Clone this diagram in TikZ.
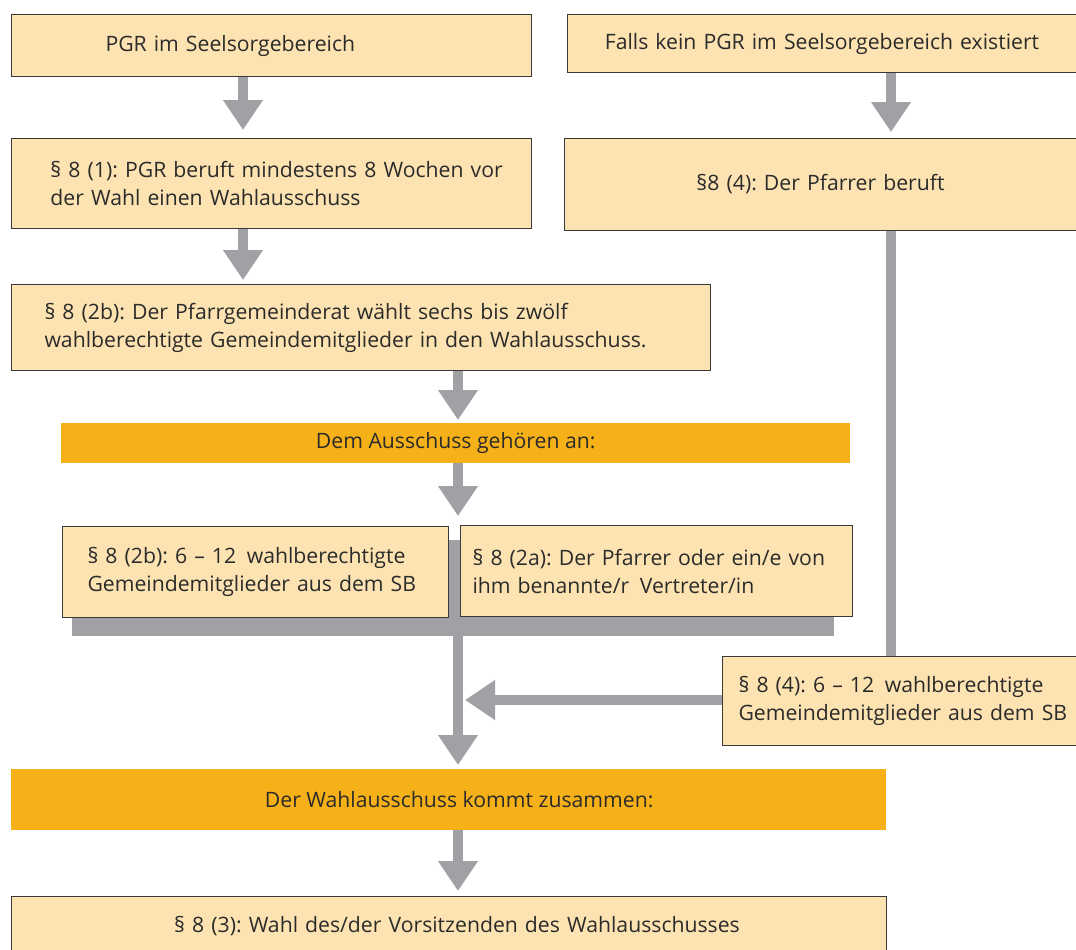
\documentclass[tikz,border=0pt]{standalone}
\usepackage{fontspec}
\setmainfont{Open Sans}
\frenchspacing
\usepackage{tikz}
\usetikzlibrary{arrows.meta}
\definecolor{kastenfarbe}{HTML}{FDE3B1}
\definecolor{balkenfarbe}{HTML}{F5B117}
\definecolor{pfeilgrau}{HTML}{A0A1A5}
\definecolor{rahmen}{HTML}{3A3A3A}
\definecolor{schrift}{HTML}{2B2B2B}

\begin{document}
\begin{tikzpicture}[x=1pt, y=-1pt,
    every node/.style={font=\fontsize{21.2}{28}\selectfont, text=schrift},
    kasten/.style={rectangle, fill=kastenfarbe, draw=rahmen, line width=1pt, anchor=north west, inner sep=0pt, align=left},
    einzug/.style={execute at begin node={\leftskip=#1\relax}},
    balken/.style={rectangle, fill=balkenfarbe, anchor=north west, inner sep=0pt, align=center},
    pfeil/.style={draw=pfeilgrau, line width=10pt, -{Triangle[width=38pt, length=30pt]}},
    linie/.style={draw=pfeilgrau, line width=10pt}]
        \useasboundingbox (0,0) rectangle (1076,950);
        \coordinate (links) at (243,0);
        \coordinate (mitte) at (458,0);
        \coordinate (rechts) at (891,0);
        \node[kasten, text width=520pt, minimum height=62pt, einzug=94pt] (pgr) at (11,14) {PGR im Seelsorgebereich};
        \node[kasten, text width=509pt, minimum height=58pt, align=center] (falls) at (567,14) {Falls kein PGR im Seelsorgebereich existiert};
        \node[kasten, text width=520pt, minimum height=90pt, einzug=39pt] (wochen) at (11,138) {§ 8 (1): PGR beruft mindestens 8 Wochen vor\\der Wahl einen Wahlausschuss};
        \node[kasten, text width=512pt, minimum height=92pt, align=center] (pfarrer) at (564,138) {§8 (4): Der Pfarrer beruft};
        \node[kasten, text width=699pt, minimum height=86pt, einzug=33pt] (pgrwahl) at (11,284) {§ 8 (2b): Der Pfarrgemeinderat wählt sechs bis zwölf\\wahlberechtigte Gemeindemitglieder in den Wahlausschuss.};
        \node[balken, minimum width=789pt, minimum height=40pt] (angehoeren) at (61,423) {Dem Ausschuss gehören an:};
        \node[rectangle, fill=pfeilgrau, anchor=north west, minimum width=762pt, minimum height=96pt, inner sep=0pt] (grau) at (72,540) {};
        \node[kasten, text width=386pt, minimum height=91pt, einzug=25pt] (mitglieder) at (62,526) {§ 8 (2b): 6 -- 12\, wahlberechtigte\\Gemeindemitglieder aus dem SB};
        \node[kasten, text width=392pt, minimum height=91pt, einzug=12pt] (vertreter) at (460,525) {§ 8 (2a): Der Pfarrer oder ein/e von\\ihm benannte/r\, Vertreter/in};
        \node[kasten, text width=360pt, minimum height=89pt, einzug=16pt] (berufene) at (722,656) {§ 8 (4): 6 -- 12\, wahlberechtigte\\Gemeindemitglieder aus dem SB};
        \node[balken, minimum width=875pt, minimum height=61pt] (zusammen) at (11,769) {\hspace*{21pt}Der Wahlausschuss kommt zusammen:};
        \node[kasten, text width=875pt, minimum height=60pt, align=center] (vorsitz) at (11,896) {\hspace*{16pt}§ 8 (3): Wahl des/der Vorsitzenden des Wahlausschusses};
        \draw[pfeil, shorten >=8pt] (pgr.south -| links) -- (wochen.north -| links);
        \draw[pfeil, shorten >=6pt] (falls.south -| rechts) -- (pfarrer.north -| rechts);
        \draw[pfeil, shorten >=4pt] (wochen.south -| links) -- (pgrwahl.north -| links);
        \draw[pfeil, shorten >=3pt] (pgrwahl.south -| mitte) -- (angehoeren.north -| mitte);
        \draw[pfeil, shorten >=10pt] (angehoeren.south -| mitte) -- (mitglieder.north -| mitte);
        \draw[linie] (pfarrer.south -| rechts) -- (berufene.north -| rechts);
        \draw[pfeil, shorten >=4pt] (grau.south -| mitte) -- (zusammen.north -| mitte);
        \draw[pfeil, shorten >=5pt] (zusammen.south -| mitte) -- (vorsitz.north -| mitte);
        \draw[pfeil, shorten >=7pt] (berufene.west |- 0,700) -- (mitte |- 0,700);
      \end{tikzpicture}
\end{document}
